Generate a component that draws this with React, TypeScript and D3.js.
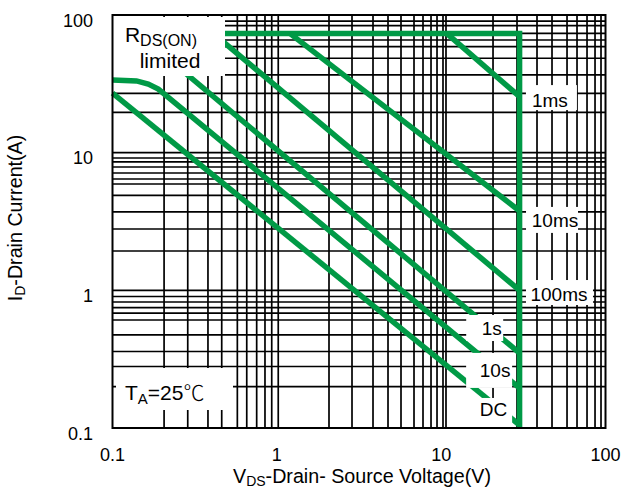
import React from "react";
import * as d3 from "d3";

// Axis ticks
const X_TICKS = [0.1, 1, 10, 100];
const X_TICK_LABELS = ["0.1", "1", "10", "100"];
const Y_TICKS = [0.1, 1, 10, 100];
const Y_TICK_LABELS = ["0.1", "1", "10", "100"];

// Grid lines (data units)
const X_GRID = [
  0.206, 0.287, 0.381, 0.462, 0.575, 0.656, 0.754, 0.847, 0.931, 1.02,
  2.077, 2.867, 3.848, 4.748, 5.696, 6.835, 7.753, 8.674, 9.435, 10.26,
  10.7, 20.68, 28.94, 38.3, 47.26, 58.33, 67.09, 77.19, 86.35, 93.9,
];
const Y_GRID = [
  0.2, 0.2797, 0.3595, 0.474, 0.609, 0.684, 0.75, 0.823, 0.902, 1.0,
  1.93, 2.79, 3.71, 4.89, 5.92, 6.44, 7.12, 7.87, 8.56, 9.15, 10,
  19.65, 27.0, 36.7, 48.5, 58.9, 65.8, 73.6, 83.6, 90.4,
];

// SOA boundary curves [V, A]
const LIMIT_IDM_VDS: [number, number][] = [[0.4, 73.5], [30, 73.5], [30, 0.1]];
const SOA_1MS: [number, number][] = [[10.8, 73.5], [30, 25.5]];
const SOA_10MS: [number, number][] = [[1.2, 73.5], [30, 3.77]];
const SOA_100MS: [number, number][] = [[0.41, 73.5], [30, 1.0]];
const SOA_1S: [number, number][] = [[0.143, 73.5], [30, 0.35]];
const SOA_10S: [number, number][] = [[0.1, 33.7], [0.14, 33.2], [0.165, 31.5], [0.19, 29], [30, 0.195]];
const SOA_DC: [number, number][] = [[0.1, 27.1], [30, 0.105]];

const CURVES = [LIMIT_IDM_VDS, SOA_1MS, SOA_10MS, SOA_100MS, SOA_1S, SOA_10S, SOA_DC];

// Curve labels: text, centre (V, A), box (px size)
const CURVE_LABELS = [
  { text: "1ms", v: 45.9, a: 24.3, bw: 51, bh: 25, dx: 1.5, dy: -2 },
  { text: "10ms", v: 49.3, a: 3.22, bw: 52, bh: 26, dx: -3, dy: -0.5 },
  { text: "100ms", v: 52.1, a: 0.94, bw: 67, bh: 25, dx: 0.5, dy: -1.5 },
  { text: "1s", v: 20.3, a: 0.537, bw: 37, bh: 26, dx: -7, dy: 0.5 },
  { text: "10s", v: 21.3, a: 0.262, bw: 46, bh: 35, dx: -6, dy: 0 },
  { text: "DC", v: 20.8, a: 0.1375, bw: 46, bh: 30, dx: -4.3, dy: 4 },
];

const GREEN = "#009a46";
const FONT = "'Liberation Sans', Arial, Helvetica, sans-serif";

export default function App() {
  const W = 625, H = 491;
  const L = 112.5, R = 605.5, T = 15, B = 428;
  const x = d3.scaleLog().domain([0.1, 100]).range([L, R]);
  const y = d3.scaleLog().domain([0.1, 100]).range([B, T]);
  const line = d3.line<[number, number]>().x(d => x(d[0])).y(d => y(d[1]));

  return (
    <svg width={W} height={H} style={{ position: "absolute", left: 0, top: 0, background: "#fff" }} fontFamily={FONT}>
      <rect x={0} y={0} width={W} height={H} fill="#fff" />
      {/* grid */}
      <g stroke="#000" strokeWidth={1.7}>
        {X_GRID.map((v, i) => (
          <line key={"gx" + i} x1={x(v)} x2={x(v)} y1={T} y2={B} />
        ))}
        {Y_GRID.map((v, i) => (
          <line key={"gy" + i} x1={L} x2={R} y1={y(v)} y2={y(v)} />
        ))}
      </g>
      {/* curves */}
      <g fill="none" stroke={GREEN} strokeWidth={5.5} strokeLinejoin="miter">
        {CURVES.map((c, i) => (
          <path key={"c" + i} d={line(c) || ""} />
        ))}
      </g>
      {/* label boxes */}
      <g fill="#fff">
        <rect x={L} y={17} width={225 - L} height={76 - 17} />
        <rect x={116} y={368} width={233 - 116} height={410 - 368} />
        {CURVE_LABELS.map((lb, i) => (
          <rect key={"b" + i} x={x(lb.v) + lb.dx - lb.bw / 2} y={y(lb.a) + lb.dy - lb.bh / 2} width={lb.bw} height={lb.bh} />
        ))}
      </g>
      {/* label texts */}
      <g fontSize={19} fill="#000">
        {CURVE_LABELS.map((lb, i) => (
          <text key={"t" + i} x={x(lb.v)} y={y(lb.a) + 7} textAnchor="middle">{lb.text}</text>
        ))}
        <text x={x(0.119)} y={y(64)} fontSize={21}>
          R<tspan fontSize={16} dy={4}>DS(ON)</tspan>
        </text>
        <text x={x(0.224)} y={y(41.2)} fontSize={21} textAnchor="middle">limited</text>
        <text x={x(0.119)} y={y(0.1826) + 8} fontSize={21}>
          T<tspan fontSize={15} dy={4}>A</tspan><tspan dy={-4}>=25</tspan>
          <tspan fontFamily="'Noto Sans CJK SC', 'DejaVu Sans', sans-serif" fontWeight={300}>℃</tspan>
        </text>
      </g>
      {/* frame */}
      <rect x={L} y={T} width={R - L} height={B - T} fill="none" stroke="#000" strokeWidth={2} />
      {/* tick labels */}
      <g fontSize={18} fill="#000">
        {X_TICKS.map((v, i) => (
          <text key={"xt" + i} x={x(v)} y={461} textAnchor="middle">{X_TICK_LABELS[i]}</text>
        ))}
        {Y_TICKS.map((v, i) => (
          <text key={"yt" + i} x={93} y={y(v) + 11.5} textAnchor="end">{Y_TICK_LABELS[i]}</text>
        ))}
      </g>
      {/* axis titles */}
      <text x={362} y={483} fontSize={19.7} textAnchor="middle">
        V<tspan fontSize={14} dy={3}>DS</tspan><tspan dy={-3}>-Drain- Source Voltage(V)</tspan>
      </text>
      <text transform="translate(22,218) rotate(-90)" fontSize={19.7} textAnchor="middle">
        I<tspan fontSize={14} dy={3}>D</tspan><tspan dy={-3}>-Drain Current(A)</tspan>
      </text>
    </svg>
  );
}
